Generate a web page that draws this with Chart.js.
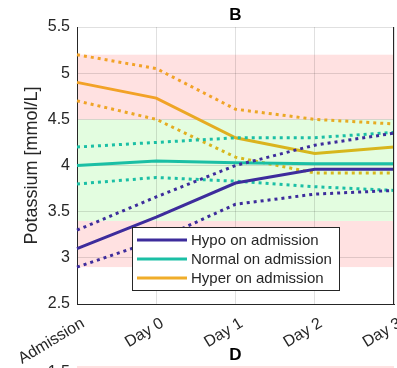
<!DOCTYPE html>
<html>
<head>
<meta charset="utf-8">
<script src="https://cdn.jsdelivr.net/npm/chart.js@4.4.1/dist/chart.umd.min.js"></script>
<style>
  html, body { margin: 0; padding: 0; background: #fff; }
  #wrap { width: 397px; height: 368px; }
</style>
</head>
<body>
<div id="wrap"><canvas id="chartK" width="397" height="368"></canvas></div>
<script>
// categories
const days = ['Admission', 'Day 0', 'Day 1', 'Day 2', 'Day 3'];

// hypo on admission
const hypoMean  = [3.10, 3.44, 3.81, 3.96, 3.96];
const hypoUpper = [3.30, 3.66, 4.00, 4.22, 4.35];
const hypoLower = [2.90, 3.19, 3.58, 3.69, 3.73];

// normal on admission
const normMean  = [4.00, 4.05, 4.03, 4.02, 4.02];
const normUpper = [4.20, 4.25, 4.30, 4.30, 4.36];
const normLower = [3.80, 3.87, 3.83, 3.77, 3.73];

// hyper on admission
const hyperMean  = [4.90, 4.73, 4.30, 4.13, 4.20];
const hyperUpper = [5.20, 5.05, 4.61, 4.50, 4.45];
const hyperLower = [4.70, 4.50, 4.09, 3.92, 3.92];

// reference ranges drawn as background
const lowBand    = [2.9, 3.4];
const normalBand = [3.4, 4.5];
const highBand   = [4.5, 5.2];

const legendNames = ['Hypo on admission', 'Normal on admission', 'Hyper on admission'];

const FONT = '"Liberation Sans", Arial, sans-serif';
const TXT = '#262626';
const BLUE = '#3d2c9c';
const TEAL = '#1bbfa5';
const ORANGE = '#f2a227';
const GOLD = '#d6b71c';

function hyperColor(context) {
  const chart = context.chart;
  const y = chart.scales.y;
  if (!chart.chartArea || !y) return ORANGE;
  const g = chart.ctx.createLinearGradient(0, y.getPixelForValue(4.7), 0, y.getPixelForValue(4.15));
  g.addColorStop(0, ORANGE);
  g.addColorStop(1, GOLD);
  return g;
}

function line(data, color, dotted) {
  return {
    data: data,
    borderColor: color,
    borderWidth: 3,
    borderDash: dotted ? [3, 4] : [],
    borderCapStyle: 'butt',
    pointRadius: 0,
    tension: 0,
    fill: false
  };
}

const bgBands = {
  id: 'bgBands',
  beforeDraw(chart) {
    const { ctx, chartArea: a, scales: { y } } = chart;
    ctx.save();
    const fillBand = (b, c) => {
      const top = y.getPixelForValue(b[1]);
      const bot = y.getPixelForValue(b[0]);
      ctx.fillStyle = c;
      ctx.fillRect(a.left, top, a.right - a.left, bot - top);
    };
    fillBand(lowBand, '#ffe1e1');
    fillBand(normalBand, '#e3fde0');
    fillBand(highBand, '#ffe1e1');
    ctx.restore();
  }
};

const extras = {
  id: 'extras',
  afterDraw(chart) {
    const { ctx, chartArea: a } = chart;
    ctx.save();
    // right border
    ctx.strokeStyle = TXT;
    ctx.lineWidth = 1;
    ctx.beginPath();
    ctx.moveTo(a.right - 0.5, a.top);
    ctx.lineTo(a.right - 0.5, a.bottom);
    ctx.stroke();

    // title
    ctx.fillStyle = '#000';
    ctx.font = 'bold 17px ' + FONT;
    ctx.textAlign = 'center';
    ctx.textBaseline = 'middle';
    const cx = (a.left + a.right) / 2;
    ctx.fillText('B', cx, 15);

    // next panel peeking in at the bottom
    ctx.fillText('D', cx, 355);
    ctx.fillStyle = '#ffe1e1';
    ctx.fillRect(a.left, 366, a.right - a.left, 2);
    ctx.fillStyle = TXT;
    ctx.font = '16px ' + FONT;
    ctx.textAlign = 'right';
    ctx.fillText('1.5', 70, 373);

    // legend
    const bx = 132, by = 227, bw = 207, bh = 63;
    ctx.fillStyle = '#fff';
    ctx.fillRect(bx, by, bw, bh);
    ctx.strokeStyle = TXT;
    ctx.strokeRect(bx + 0.5, by + 0.5, bw, bh);
    const cols = [BLUE, TEAL, '#f0ad2a'];
    ctx.font = '15px ' + FONT;
    ctx.textAlign = 'left';
    legendNames.forEach((n, i) => {
      const ly = by + 13 + i * 19;
      ctx.strokeStyle = cols[i];
      ctx.lineWidth = 3;
      ctx.beginPath();
      ctx.moveTo(bx + 5, ly);
      ctx.lineTo(bx + 55, ly);
      ctx.stroke();
      ctx.fillStyle = TXT;
      ctx.fillText(n, bx + 59, ly + 1);
    });
    ctx.restore();
  }
};

new Chart(document.getElementById('chartK'), {
  type: 'line',
  data: {
    labels: days,
    datasets: [
      line(hypoMean, BLUE, false),
      line(hypoUpper, BLUE, true),
      line(hypoLower, BLUE, true),
      line(normMean, TEAL, false),
      line(normUpper, TEAL, true),
      line(normLower, TEAL, true),
      line(hyperMean, hyperColor, false),
      line(hyperUpper, hyperColor, true),
      line(hyperLower, hyperColor, true)
    ]
  },
  options: {
    responsive: false,
    animation: false,
    layout: { padding: { top: 27, right: 3, bottom: 0, left: 0 } },
    plugins: {
      legend: { display: false },
      title: { display: false },
      tooltip: { enabled: false }
    },
    scales: {
      x: {
        offset: false,
        grid: { color: 'rgba(0,0,0,0.12)', drawTicks: false },
        border: { color: TXT },
        ticks: {
          color: TXT,
          font: { family: FONT, size: 16 },
          minRotation: 31,
          maxRotation: 31,
          padding: 10,
          labelOffset: 6,
          autoSkip: false
        },
        afterFit(scale) {
          scale.height = 64;
          scale.paddingLeft = 0;
          scale.paddingRight = 0;
        }
      },
      y: {
        min: 2.5,
        max: 5.5,
        grid: { color: 'rgba(0,0,0,0.12)', drawTicks: false },
        border: { color: TXT },
        ticks: {
          stepSize: 0.5,
          color: TXT,
          font: { family: FONT, size: 16 },
          padding: 7,
          callback: v => String(v)
        },
        title: {
          display: true,
          text: 'Potassium [mmol/L]',
          color: TXT,
          font: { family: FONT, size: 18 },
          padding: { top: 21, bottom: 0 }
        },
        afterFit(scale) {
          scale.width = 77;
        }
      }
    }
  },
  plugins: [bgBands, extras]
});
</script>
</body>
</html>
